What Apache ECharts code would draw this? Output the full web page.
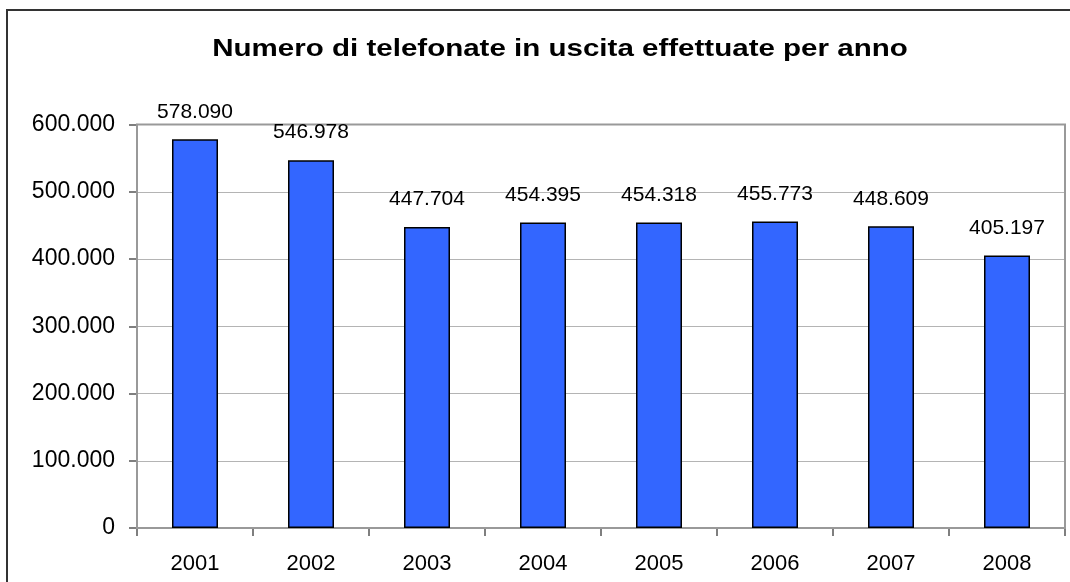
<!DOCTYPE html>
<html>
<head>
<meta charset="utf-8">
<script src="https://cdn.jsdelivr.net/npm/echarts@6/dist/echarts.min.js"></script>
<style>
html,body{margin:0;padding:0;background:#fff;}
#c{width:1070px;height:582px;}
</style>
</head>
<body>
<div id="c"></div>
<script>
const titleText = 'Numero di telefonate in uscita effettuate per anno';
const years = ['2001','2002','2003','2004','2005','2006','2007','2008'];
const calls = [578090, 546978, 447704, 454395, 454318, 455773, 448609, 405197];
const yTicks = [0, 100000, 200000, 300000, 400000, 500000, 600000];

function fmt(v){
  return String(v).replace(/\B(?=(\d{3})+(?!\d))/g, '.');
}

const chart = echarts.init(document.getElementById('c'), null, {renderer:'canvas'});
const font = 'Liberation Sans, Arial, sans-serif';
chart.setOption({
  animation:false,
  backgroundColor:'#ffffff',
  graphic:[
    {type:'rect', shape:{x:7, y:10, width:1100, height:620}, style:{fill:'none', stroke:'#333', lineWidth:2}, silent:true},
    {type:'rect', shape:{x:137, y:124.5, width:928, height:403.5}, style:{fill:'none', stroke:'#999', lineWidth:2}, silent:true, z:1},
    {type:'text', x:560, y:49, scaleX:1.23, silent:true,
     style:{text:titleText, font:'bold 24px ' + font, fill:'#000', textAlign:'center', textVerticalAlign:'middle'}}
  ],
  grid:{left:137, top:124.5, width:928, height:403.5, containLabel:false},
  xAxis:{
    type:'category', data:years,
    axisLine:{lineStyle:{color:'#555', width:1.5}},
    axisTick:{show:true, length:8, lineStyle:{color:'#555', width:1.5}},
    axisLabel:{fontFamily:font, fontSize:22, color:'#000', margin:25}
  },
  yAxis:{
    type:'value', min:0, max:600000, interval:100000,
    axisLine:{show:true, lineStyle:{color:'#555', width:1.5}},
    axisTick:{show:true, length:8, lineStyle:{color:'#555', width:1.5}},
    splitLine:{lineStyle:{color:'#b4b4b4', width:1}},
    axisLabel:{fontFamily:font, fontSize:23, color:'#000', margin:22, formatter:v=>fmt(v)}
  },
  series:[{
    type:'bar', data:calls, barWidth:46,
    itemStyle:{color:'#3366ff', borderColor:'#000', borderWidth:1.5},
    label:{show:true, position:'top', distance:17, fontFamily:font, fontSize:21, color:'#000', formatter:p=>fmt(p.value)}
  }]
});
</script>
</body>
</html>
